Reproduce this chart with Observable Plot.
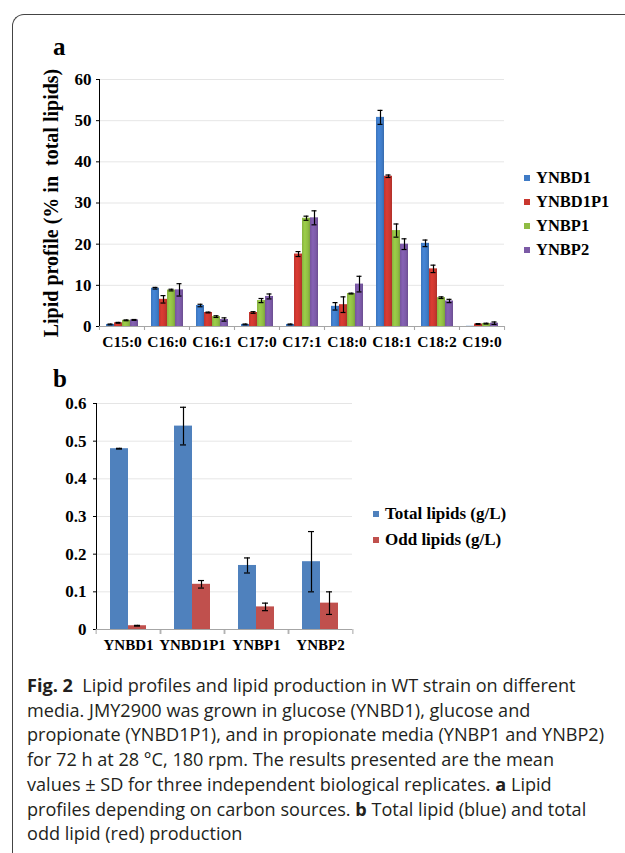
<!DOCTYPE html>
<html><head><meta charset="utf-8">
<script src="https://cdn.jsdelivr.net/npm/d3@7"></script>
<script src="https://cdn.jsdelivr.net/npm/@observablehq/plot@0.6"></script>
<style>
body{margin:0;background:#fff;width:625px;height:853px;overflow:hidden;position:relative;font-family:"Liberation Serif",serif;}
#frame{position:absolute;left:12px;top:14px;width:700px;height:900px;border-left:1.6px solid #444;border-top:1.6px solid #444;border-top-left-radius:12px;}
.plab{position:absolute;font-weight:bold;font-size:25px;line-height:1;}
#chartA,#chartB{position:absolute;left:0;}
#chartA{top:60px;} #chartB{top:385px;}
.legend{position:absolute;font-weight:bold;color:#000;font-family:"Liberation Serif",serif;}
.legend div{display:flex;align-items:center;white-space:nowrap;}
.legend span.sw{display:inline-block;width:6px;height:6px;margin-right:6px;}
#legA{left:524px;top:166px;font-size:16.5px;}
#legA div{height:24px;}
#legB{left:373px;top:501px;font-size:17px;}
#legB div{height:26px;}
#caption{position:absolute;left:27px;top:673px;font-family:"Open Sans",sans-serif;font-size:18.1px;line-height:24.7px;color:#231f20;white-space:nowrap;}
#caption b{font-weight:bold;}
svg text{font-family:"Liberation Serif",serif;font-weight:bold;}
svg [aria-label="y-grid"]{stroke:#a6a6a6;stroke-opacity:1;}
svg [aria-label="y-axis tick"]{stroke:#a6a6a6;}
svg [aria-label="y-axis line"]{stroke:#a6a6a6;}
svg [aria-label="y-axis label"]{font-size:20px;}
</style>
</head><body>
<div id="frame"></div>
<div class="plab" style="left:53px;top:34px;">a</div>
<div class="plab" style="left:53px;top:366px;">b</div>
<div id="chartA"></div>
<div id="legA" class="legend"></div>
<div id="chartB"></div>
<div id="legB" class="legend"></div>
<div id="caption"><b>Fig. 2</b>&nbsp; Lipid profiles and lipid production in WT strain on different<br>media. JMY2900 was grown in glucose (YNBD1), glucose and<br>propionate (YNBD1P1), and in propionate media (YNBP1 and YNBP2)<br>for 72 h at 28 °C, 180 rpm. The results presented are the mean<br>values ± SD for three independent biological replicates. <b>a</b> Lipid<br>profiles depending on carbon sources. <b>b</b> Total lipid (blue) and total<br>odd lipid (red) production</div>
<script>
// ---------- Panel a data ----------
const categoriesA = ["C15:0","C16:0","C16:1","C17:0","C17:1","C18:0","C18:1","C18:2","C19:0"];
const seriesA = ["YNBD1","YNBD1P1","YNBP1","YNBP2"];
const ynbd1      = [0.5, 9.3, 5.1, 0.5, 0.5, 4.9, 50.8, 20.2, 0.05];
const ynbd1Err   = [0.1, 0.2, 0.3, 0.1, 0.1, 0.9, 1.7, 0.8, 0];
const ynbd1p1    = [0.9, 6.6, 3.4, 3.4, 17.6, 5.3, 36.5, 14.0, 0.6];
const ynbd1p1Err = [0.1, 0.9, 0.1, 0.2, 0.6, 1.9, 0.3, 0.9, 0.1];
const ynbp1      = [1.5, 8.85, 2.4, 6.3, 26.3, 8.0, 23.3, 7.0, 0.7];
const ynbp1Err   = [0.1, 0.2, 0.2, 0.5, 0.5, 0.1, 1.6, 0.2, 0.1];
const ynbp2      = [1.6, 8.9, 1.7, 7.3, 26.4, 10.3, 20.0, 6.2, 0.8];
const ynbp2Err   = [0.1, 1.5, 0.4, 0.6, 1.7, 1.9, 1.3, 0.4, 0.3];
const yTicksA = [0, 10, 20, 30, 40, 50, 60];
const yLabelA = "Lipid profile (% in  total lipids)";
const colorsA = ["#3f7bc6", "#c9372f", "#8fbc43", "#7b5aa6"];

// ---------- Panel b data ----------
const categoriesB = ["YNBD1","YNBD1P1","YNBP1","YNBP2"];
const seriesB = ["Total lipids (g/L)", "Odd lipids (g/L)"];
const totalLipids = [0.48, 0.54, 0.17, 0.18];
const totalErr    = [0.001, 0.05, 0.02, 0.08];
const oddLipids   = [0.01, 0.12, 0.06, 0.07];
const oddErr      = [0.001, 0.01, 0.01, 0.03];
const yTicksB = [0, 0.1, 0.2, 0.3, 0.4, 0.5, 0.6];
const colorsB = ["#4f81bd", "#c0504d"];

// ---------- build tables ----------
const valsA = [ynbd1, ynbd1p1, ynbp1, ynbp2];
const errsA = [ynbd1Err, ynbd1p1Err, ynbp1Err, ynbp2Err];
const rowsA = [];
seriesA.forEach((s, i) => categoriesA.forEach((c, j) =>
  rowsA.push({cat: c, series: s, value: valsA[i][j], err: errsA[i][j]})));
const valsB = [totalLipids, oddLipids];
const errsB = [totalErr, oddErr];
const rowsB = [];
seriesB.forEach((s, i) => categoriesB.forEach((c, j) =>
  rowsB.push({cat: c, series: s, value: valsB[i][j], err: errsB[i][j]})));

const ns = "http://www.w3.org/2000/svg";
function addGradients(svg, colors, prefix) {
  const defs = document.createElementNS(ns, "defs");
  colors.forEach((c, i) => {
    const g = document.createElementNS(ns, "linearGradient");
    g.setAttribute("id", prefix + i);
    g.setAttribute("x1", "0"); g.setAttribute("x2", "1"); g.setAttribute("y1", "0"); g.setAttribute("y2", "0");
    const base = d3.color(c);
    [[0, base.darker(0.15)], [0.35, base.brighter(0.25)], [0.75, base], [1, base.darker(0.4)]].forEach(([o, col]) => {
      const st = document.createElementNS(ns, "stop");
      st.setAttribute("offset", o);
      st.setAttribute("stop-color", col.formatHex());
      g.appendChild(st);
    });
    defs.appendChild(g);
  });
  svg.insertBefore(defs, svg.firstChild);
}

// ---------- Panel a ----------
const WA = 510, mLA = 98, mRA = 6;
const stepA = (WA - mLA - mRA) / categoriesA.length;
const chartA = Plot.plot({
  width: WA, height: 300,
  marginLeft: mLA, marginRight: mRA, marginTop: 19, marginBottom: 34,
  style: {fontFamily: "Liberation Serif", fontWeight: "bold", fontSize: "17px", color: "#000", background: "transparent", overflow: "visible"},
  fx: {domain: categoriesA, padding: 0, label: null},
  x: {domain: seriesA, axis: null, paddingInner: 0, paddingOuter: 0.75},
  y: {domain: [0, 60], ticks: yTicksA, grid: true, line: true, tickSize: 3, tickPadding: 5,
      label: yLabelA, labelAnchor: "center", labelOffset: 56, labelArrow: "none"},
  color: {domain: seriesA, range: seriesA.map((s, i) => `url(#ga${i})`)},
  marks: [
    Plot.ruleY([0], {stroke: "#a6a6a6"}),
    Plot.barY(rowsA, {fx: "cat", x: "series", y: "value", fill: "series", insetLeft: 0, insetRight: 0}),
    Plot.ruleX(rowsA.filter(d => d.err > 0), {fx: "cat", x: "series", y1: d => d.value - d.err, y2: d => d.value + d.err, stroke: "#000", strokeWidth: 1.2}),
    Plot.tickY(rowsA.filter(d => d.err > 0), {fx: "cat", x: "series", y: d => d.value + d.err, stroke: "#000", strokeWidth: 1.2, insetLeft: 1.5, insetRight: 1.5}),
    Plot.tickY(rowsA.filter(d => d.err > 0), {fx: "cat", x: "series", y: d => d.value - d.err, stroke: "#000", strokeWidth: 1.2, insetLeft: 1.5, insetRight: 1.5}),
    Plot.axisFx({anchor: "bottom", tickSize: 0, tickPadding: 9, label: null, fontSize: "15.5px"}),
    Plot.axisFx({anchor: "bottom", tickSize: 4, tickFormat: () => "", label: null, stroke: "#a6a6a6", dx: -stepA / 2}),
    Plot.axisFx({anchor: "bottom", tickSize: 4, tickFormat: () => "", label: null, stroke: "#a6a6a6", dx: stepA / 2})
  ]
});
addGradients(chartA, colorsA, "ga");
document.getElementById("chartA").appendChild(chartA);

// ---------- Panel b ----------
const WB = 360, mLB = 94, mRB = 7;
const stepB = (WB - mLB - mRB) / categoriesB.length;
const chartB = Plot.plot({
  width: WB, height: 280,
  marginLeft: mLB, marginRight: mRB, marginTop: 18, marginBottom: 36,
  style: {fontFamily: "Liberation Serif", fontWeight: "bold", fontSize: "17px", color: "#000", background: "transparent", overflow: "visible"},
  fx: {domain: categoriesB, padding: 0, label: null},
  x: {domain: seriesB, axis: null, paddingInner: 0, paddingOuter: 0.75},
  y: {domain: [0, 0.6], ticks: yTicksB, grid: true, line: true, tickSize: 3, tickPadding: 7, label: null,
      tickFormat: d => d === 0 ? "0" : d3.format(".1f")(d)},
  color: {domain: seriesB, range: colorsB},
  marks: [
    Plot.ruleY([0], {stroke: "#a6a6a6"}),
    Plot.barY(rowsB, {fx: "cat", x: "series", y: "value", fill: "series", insetLeft: 0, insetRight: 0}),
    Plot.ruleX(rowsB, {fx: "cat", x: "series", y1: d => d.value - d.err, y2: d => d.value + d.err, stroke: "#000", strokeWidth: 1.2}),
    Plot.tickY(rowsB, {fx: "cat", x: "series", y: d => d.value + d.err, stroke: "#000", strokeWidth: 1.2, insetLeft: 6, insetRight: 6}),
    Plot.tickY(rowsB, {fx: "cat", x: "series", y: d => d.value - d.err, stroke: "#000", strokeWidth: 1.2, insetLeft: 6, insetRight: 6}),
    Plot.axisFx({anchor: "bottom", tickSize: 0, tickPadding: 10, label: null, fontSize: "15px"}),
    Plot.axisFx({anchor: "bottom", tickSize: 5, tickFormat: () => "", label: null, stroke: "#a6a6a6", dx: -stepB / 2}),
    Plot.axisFx({anchor: "bottom", tickSize: 5, tickFormat: () => "", label: null, stroke: "#a6a6a6", dx: stepB / 2})
  ]
});
document.getElementById("chartB").appendChild(chartB);

// ---------- legends ----------
function legend(id, series, colors) {
  const el = document.getElementById(id);
  series.forEach((s, i) => {
    const row = document.createElement("div");
    const sw = document.createElement("span");
    sw.className = "sw"; sw.style.background = colors[i];
    row.appendChild(sw);
    row.appendChild(document.createTextNode(s));
    el.appendChild(row);
  });
}
legend("legA", seriesA, colorsA);
legend("legB", seriesB, colorsB);
</script>
</body></html>
